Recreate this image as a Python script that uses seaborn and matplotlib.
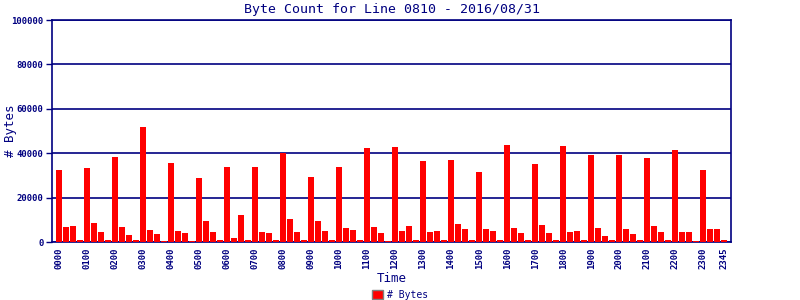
import matplotlib
matplotlib.use("Agg")
import matplotlib.pyplot as plt
import seaborn as sns
import pandas as pd
from matplotlib.patches import Patch

sns.set_theme(style="white")
plt.rcParams['font.family'] = ['DejaVu Sans Mono', 'DejaVu Sans']

NAVY = "#000080"

# 15-minute time slots
times = [f"{h:02d}{m:02d}" for h in range(24) for m in (0, 15, 30, 45)]

byte_counts = [
    32500, 6900, 7300, 1000,   # 00
    33500, 8700, 4600, 1000,   # 01
    38400, 6900, 3300, 1000,   # 02
    51900, 5500, 3700, 500,    # 03
    35700, 5100, 4200, 500,    # 04
    29000, 9600, 4600, 1000,   # 05
    33900, 1900, 12300, 1000,  # 06
    33900, 4600, 4200, 1000,   # 07
    40200, 10500, 4600, 1000,  # 08
    29400, 9600, 5100, 1000,   # 09
    33900, 6400, 5500, 1000,   # 10
    42500, 6900, 4200, 500,    # 11
    42900, 5100, 7300, 1000,   # 12
    36600, 4600, 5100, 1000,   # 13
    37100, 8200, 6000, 1000,   # 14
    31700, 6000, 5100, 1000,   # 15
    43800, 6400, 4200, 1000,   # 16
    35300, 7800, 4200, 1000,   # 17
    43400, 4600, 5100, 1000,   # 18
    39300, 6400, 2800, 1000,   # 19
    39300, 6000, 3700, 1000,   # 20
    38000, 7300, 4600, 1000,   # 21
    41600, 4600, 4600, 500,    # 22
    32600, 6000, 6000, 1000,   # 23
]

title = "Byte Count for Line 0810 - 2016/08/31"

df = pd.DataFrame({"Time": times, "Bytes": byte_counts})

fig = plt.figure(figsize=(8, 3), dpi=100)
ax = fig.add_axes([0.065, 0.193, 0.849, 0.74])

sns.barplot(data=df, x="Time", y="Bytes", order=times, color="#ff0000",
            saturation=1, width=0.86, linewidth=0, ax=ax, zorder=3)

ax.set_xlim(-1, 96)
ax.set_ylim(0, 100000)
ax.set_yticks([0, 20000, 40000, 60000, 80000, 100000])
ax.set_yticklabels(["0", "20000", "40000", "60000", "80000", "100000"],
                   fontsize=6.5, color=NAVY, fontweight="bold")
ax.yaxis.grid(True, color=NAVY, linewidth=1.2, zorder=1)
ax.xaxis.grid(False)

tick_idx = list(range(0, 96, 4)) + [95]
ax.set_xticks(tick_idx)
ax.set_xticklabels([times[i] for i in tick_idx], rotation=90, fontsize=6.5,
                   color=NAVY, fontweight="bold")
ax.tick_params(axis="x", length=0, pad=4)
ax.tick_params(axis="y", length=4, width=1, color=NAVY, left=True, pad=2)

for s in ax.spines.values():
    s.set_color(NAVY)
    s.set_linewidth(1.2)
    s.set_visible(True)

ax.set_xlabel("Time", fontsize=9, color=NAVY, labelpad=2)
ax.set_ylabel("# Bytes", fontsize=9, color=NAVY)
ax.yaxis.set_label_coords(-0.052, 0.5)
ax.set_title(title, fontsize=9.5, color=NAVY, pad=5)

handle = Patch(facecolor="#ff0000", edgecolor="#808080", label="# Bytes")
fig.legend(handles=[handle], loc="center", bbox_to_anchor=(0.5, 0.017),
           frameon=False, fontsize=7, handlelength=1.2, handleheight=1.0,
           handletextpad=0.4, labelcolor=NAVY)

fig.savefig("out.png", dpi=100)
